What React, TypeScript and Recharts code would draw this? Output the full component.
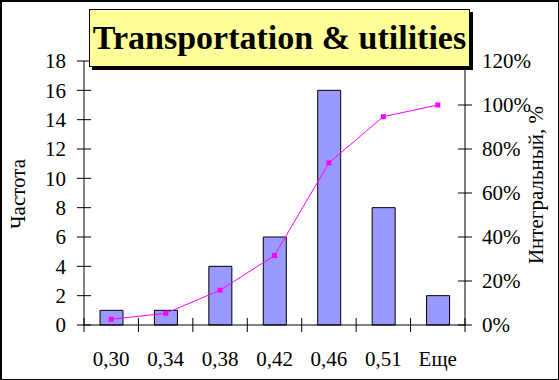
import { ComposedChart, Bar, Line, XAxis, YAxis } from "recharts";

const bins = ["0,30", "0,34", "0,38", "0,42", "0,46", "0,51", "Еще"];
const frequency = [1, 1, 4, 6, 16, 8, 2];
const cumulativePct = [2.6, 5.3, 15.8, 31.6, 73.7, 94.7, 100];
const freqTicks = [0, 2, 4, 6, 8, 10, 12, 14, 16, 18];
const pctTicks = [0, 20, 40, 60, 80, 100, 120];

const data = bins.map((bin, i) => ({
  bin,
  freq: frequency[i],
  cum: cumulativePct[i],
}));

const W = 559;
const H = 380;
const FONT = "'Liberation Serif', 'Times New Roman', serif";
const TXT = { fontFamily: FONT, fontSize: 21, fill: "#000" };
const TS = 7; // tick half-length
const TM_LEFT = 11;
const TM_RIGHT = 10;
const TM_BOTTOM = 19;
const X_HEIGHT = 45;

function LeftTick(props: any) {
  const { x, y, payload } = props;
  const ax = x + TS + TM_LEFT;
  return (
    <g>
      <line x1={ax - TS} x2={ax + TS} y1={y} y2={y} stroke="#000" />
      <text x={x} y={y} dy="0.35em" textAnchor="end" style={TXT}>
        {payload.value}
      </text>
    </g>
  );
}

function RightTick(props: any) {
  const { x, y, payload } = props;
  const ax = x - TS - TM_RIGHT;
  return (
    <g>
      <line x1={ax - TS} x2={ax + TS} y1={y} y2={y} stroke="#000" />
      <text x={x} y={y} dy="0.35em" textAnchor="start" style={TXT}>
        {payload.value}%
      </text>
    </g>
  );
}

function BottomTick(props: any) {
  const { x, y, payload, index } = props;
  const ay = y - TS - TM_BOTTOM;
  const off = payload.offset ?? 381 / 14;
  return (
    <g>
      <line x1={x - off} x2={x - off} y1={ay - TS} y2={ay + TS} stroke="#000" />
      {index === bins.length - 1 && (
        <line x1={x + off} x2={x + off} y1={ay - TS} y2={ay + TS} stroke="#000" />
      )}
      <text x={x} y={y} dy="0.71em" textAnchor="middle" style={TXT}>
        {payload.value}
      </text>
    </g>
  );
}

function SquareDot(props: any) {
  const { cx, cy } = props;
  if (cx == null || cy == null) return null;
  return <rect x={cx - 2.5} y={cy - 2.5} width={5} height={5} fill="#FF00FF" />;
}

function LeftTitle(props: any) {
  const vb = props.viewBox;
  const cx = vb.x + 18;
  const cy = vb.y + vb.height / 2 + 1;
  return (
    <text
      x={cx}
      y={cy}
      transform={`rotate(-90, ${cx}, ${cy})`}
      textAnchor="middle"
      dominantBaseline="central"
      style={TXT}
    >
      Частота
    </text>
  );
}

function RightTitle(props: any) {
  const vb = props.viewBox;
  const cx = vb.x + 71;
  const cy = vb.y + vb.height / 2 - 8;
  return (
    <text
      x={cx}
      y={cy}
      transform={`rotate(-90, ${cx}, ${cy})`}
      textAnchor="middle"
      dominantBaseline="central"
      style={TXT}
    >
      Интегральный, %
    </text>
  );
}

export default function App() {
  return (
    <div style={{ position: "absolute", left: 0, top: 0, width: W, height: H, background: "#fff" }}>
      <ComposedChart
        width={W}
        height={H}
        data={data}
        margin={{ top: 61, right: 0, bottom: 380 - 325 - X_HEIGHT, left: 0 }}
      >
        <XAxis
          dataKey="bin"
          height={X_HEIGHT}
          tickSize={TS}
          tickMargin={TM_BOTTOM}
          tickLine={false}
          axisLine={{ stroke: "#000" }}
          tick={<BottomTick />}
          interval={0}
        />
        <YAxis
          yAxisId="freq"
          width={84}
          domain={[0, 18]}
          ticks={freqTicks}
          tickSize={TS}
          tickMargin={TM_LEFT}
          tickLine={false}
          axisLine={{ stroke: "#000" }}
          tick={<LeftTick />}
          interval={0}
          label={{ content: LeftTitle }}
        />
        <YAxis
          yAxisId="pct"
          orientation="right"
          width={94}
          domain={[0, 120]}
          ticks={pctTicks}
          tickSize={TS}
          tickMargin={TM_RIGHT}
          tickLine={false}
          axisLine={{ stroke: "#000" }}
          tick={<RightTick />}
          interval={0}
          label={{ content: RightTitle }}
        />
        <Bar
          yAxisId="freq"
          dataKey="freq"
          fill="#9999FF"
          stroke="#000"
          strokeWidth={1}
          barSize={23}
          isAnimationActive={false}
        />
        <Line
          yAxisId="pct"
          dataKey="cum"
          stroke="#FF00FF"
          strokeWidth={1}
          type="linear"
          dot={<SquareDot />}
          activeDot={false}
          isAnimationActive={false}
        />
      </ComposedChart>
      <div
        style={{
          position: "absolute",
          left: 89,
          top: 9,
          width: 381,
          height: 58,
          boxSizing: "border-box",
          background: "#FFFF99",
          border: "1px solid #000",
          boxShadow: "3px 3px 0 #000",
          display: "flex",
          alignItems: "center",
          justifyContent: "center",
          fontFamily: FONT,
          fontWeight: "bold",
          fontSize: 34,
          color: "#000",
          whiteSpace: "nowrap",
        }}
      >
        Transportation &amp; utilities
      </div>
      <div
        style={{
          position: "absolute",
          left: 0,
          top: 0,
          width: W,
          height: H,
          boxSizing: "border-box",
          borderStyle: "solid",
          borderColor: "#000",
          borderWidth: "2px 1px 1px 2px",
          pointerEvents: "none",
        }}
      />
    </div>
  );
}
